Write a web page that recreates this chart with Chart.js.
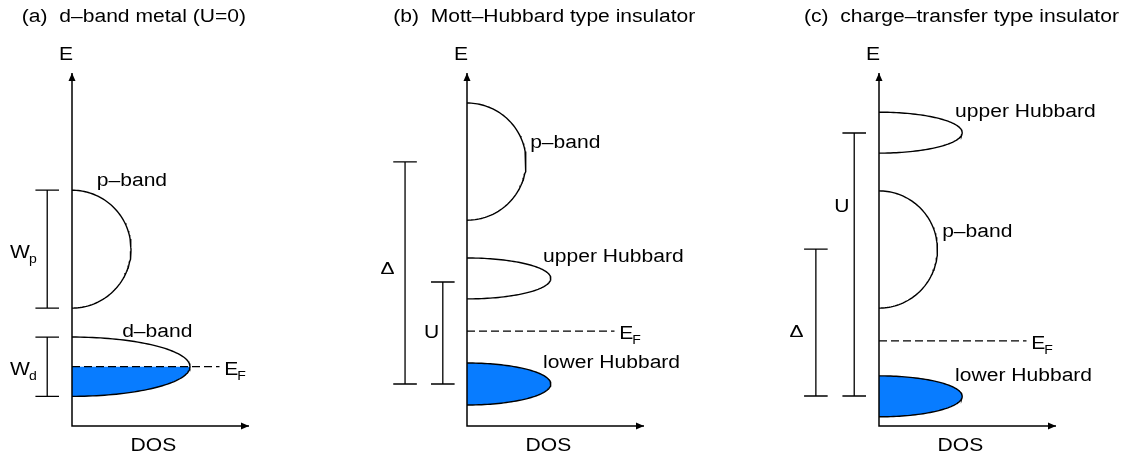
<!DOCTYPE html>
<html lang="en">
<head>
<meta charset="UTF-8">
<title>DOS schematics</title>
<script src="https://cdn.jsdelivr.net/npm/chart.js"></script>
<style>
    html, body { margin: 0; padding: 0; background: #fff; }
    .wrap { position: relative; width: 1127px; height: 459px; overflow: hidden; }
    canvas { position: absolute; top: 0; }
</style>
</head>
<body>
<div class="wrap">
    <canvas id="panel0"></canvas>
    <canvas id="panel1"></canvas>
    <canvas id="panel2"></canvas>
</div>
<script>
// energy in arbitrary units (0..100), DOS in units of the p-band peak
const titles = ['(a)  d–band metal (U=0)', '(b)  Mott–Hubbard type insulator', '(c)  charge–transfer type insulator'];

const bandNames      = [['p–band', 'd–band'], ['p–band', 'upper Hubbard', 'lower Hubbard'], ['upper Hubbard', 'p–band', 'lower Hubbard']];
const bandCenters    = [[50.1, 16.8], [74.9, 41.8, 11.9], [83.1, 50.0, 8.4]];
const bandHalfWidths = [[16.7, 8.4], [16.6, 5.8, 5.95], [5.8, 16.6, 5.8]];
const bandPeaks      = [[1.0, 2.0], [1.0, 1.42, 1.42], [1.41, 0.99, 1.41]];
const bandFilled     = [[false, true], [false, false, true], [false, false, true]];
const fermiLevels    = [16.8, 26.9, 24.1];

// energy brackets (label "W|p" = W with subscript p)
const gapLabels = [['W|p', 'W|d'], ['\u0394', 'U'], ['U', '\u0394']];
const gapLow    = [[33.4, 8.4], [11.9, 11.9], [8.5, 8.5]];
const gapHigh   = [[66.8, 25.2], [74.8, 40.8], [83.0, 50.1]];

// ---- layout ----
const PX_PER_DOS = 59;
const axisPx = [72, 467, 879];
const canvasSpan = [[0, 372], [372, 782], [782, 1127]];
const PLOT_TOP = 73, PLOT_BOTTOM = 426, H = 459;
const X_ARROW = 3.0, EF_END = 2.5, TICK_HALF = 0.2;
const STRETCH = 1.17;
const BLUE = 'rgb(8,124,255)';
const FONT = '"Liberation Sans", Arial, sans-serif';

const gapColumn = [[-0.42, -0.42], [-1.05, -0.41], [-0.42, -1.07]];
const bandLabelPos = [[[0.42, 68.0], [0.85, 25.2]],
                      [[1.07, 78.8], [1.29, 46.5], [1.29, 16.4]],
                      [[1.29, 87.5], [1.07, 53.5], [1.29, 12.7]]];
const gapLabelPos = [[[-1.05, 47.6], [-1.05, 14.4]],
                     [[-1.46, 43.1], [-0.73, 24.9]],
                     [[-0.76, 60.6], [-1.51, 25.2]]];
const titleX = [-0.85, -1.25, -1.27];

function halfEllipse(c, h, p, yTop) {
    const t0 = Math.acos(Math.max(-1, Math.min(1, (yTop - c) / h)));
    const pts = [];
    const n = 90;
    for (let i = 0; i <= n; i++) {
        const t = t0 + (Math.PI - t0) * i / n;
        pts.push({ x: p * Math.sin(t), y: c + h * Math.cos(t) });
    }
    return pts;
}

function drawText(ctx, str, x, y, size, align) {
    ctx.save();
    ctx.font = size + 'px ' + FONT;
    const w = ctx.measureText(str).width * STRETCH;
    const left = align === 'center' ? x - w / 2 : (align === 'right' ? x - w : x);
    ctx.translate(left, y);
    ctx.scale(STRETCH, 1);
    ctx.fillStyle = '#000';
    ctx.textAlign = 'left';
    ctx.textBaseline = 'alphabetic';
    ctx.fillText(str, 0, 0);
    ctx.restore();
    return w;
}

// Delta glyph sized to its ink box
function drawDelta(ctx, x, y) {
    ctx.save();
    ctx.font = '100px ' + FONT;
    const m = ctx.measureText('\u0394');
    const inkH = m.actualBoundingBoxAscent + m.actualBoundingBoxDescent;
    const inkW = m.actualBoundingBoxLeft + m.actualBoundingBoxRight;
    const sy = 12 / inkH, sx = 13 / inkW;
    ctx.translate(x, y);
    ctx.scale(sx, sy);
    ctx.fillStyle = '#000';
    ctx.textAlign = 'left';
    ctx.textBaseline = 'alphabetic';
    ctx.fillText('\u0394', m.actualBoundingBoxLeft, 0);
    ctx.restore();
}

function drawSubLabel(ctx, str, x, y, size) {
    if (str === '\u0394') { drawDelta(ctx, x, y); return; }
    const parts = str.split('|');
    const w = drawText(ctx, parts[0], x, y, size, 'left');
    if (parts[1]) drawText(ctx, parts[1], x + w - 1, y + 5, 12, 'left');
}

const labelPlugin = {
    id: 'dosLabels',
    afterDatasetsDraw(chart) {
        const i = chart.options.plugins.dosLabels.panel;
        const ctx = chart.ctx;
        const xs = chart.scales.x, ys = chart.scales.y;
        const px = v => xs.getPixelForValue(v);
        const py = v => ys.getPixelForValue(v);

        // arrow heads
        ctx.save();
        ctx.fillStyle = '#000';
        const ox = px(0), oy = py(0);
        ctx.beginPath();
        ctx.moveTo(ox, py(100));
        ctx.lineTo(ox - 3.5, py(100) + 8);
        ctx.lineTo(ox + 3.5, py(100) + 8);
        ctx.closePath();
        ctx.fill();
        ctx.beginPath();
        ctx.moveTo(px(X_ARROW), oy);
        ctx.lineTo(px(X_ARROW) - 8, oy - 3.5);
        ctx.lineTo(px(X_ARROW) - 8, oy + 3.5);
        ctx.closePath();
        ctx.fill();
        ctx.restore();

        drawText(ctx, titles[i], px(titleX[i]), 22, 18, 'left');
        drawText(ctx, 'E', ox - 6, 60, 18, 'center');
        drawText(ctx, 'DOS', px(1.38), 451, 18, 'center');

        bandNames[i].forEach((name, k) => {
            const p = bandLabelPos[i][k];
            drawText(ctx, name, px(p[0]), py(p[1]), 18, 'left');
        });
        gapLabels[i].forEach((name, k) => {
            const p = gapLabelPos[i][k];
            drawSubLabel(ctx, name, px(p[0]), py(p[1]), 18);
        });
        drawSubLabel(ctx, 'E|F', px(2.58), py(fermiLevels[i] - 2.3), 18);
    }
};

function buildDatasets(i) {
    const sets = [];
    const base = { showLine: true, pointRadius: 0, tension: 0, fill: false, clip: false };

    bandNames[i].forEach((name, k) => {
        const c = bandCenters[i][k], h = bandHalfWidths[i][k], p = bandPeaks[i][k];
        if (bandFilled[i][k]) {
            const top = Math.min(fermiLevels[i], c + h);
            const pts = [{ x: 0, y: top }].concat(halfEllipse(c, h, p, top));
            sets.push(Object.assign({}, base, {
                label: name + ' filled', data: pts, fill: 'shape',
                backgroundColor: BLUE, borderWidth: 0, borderColor: BLUE, order: 6
            }));
        }
        sets.push(Object.assign({}, base, {
            label: name, data: halfEllipse(c, h, p, c + h),
            borderColor: '#000', borderWidth: 1.4, order: 4
        }));
    });

    sets.push(Object.assign({}, base, {
        label: 'E_F', data: [{ x: 0, y: fermiLevels[i] }, { x: EF_END, y: fermiLevels[i] }],
        borderColor: '#000', borderWidth: 1.3, borderDash: [8, 4], order: 3
    }));

    gapLabels[i].forEach((name, k) => {
        const x = gapColumn[i][k], lo = gapLow[i][k], hi = gapHigh[i][k];
        sets.push(Object.assign({}, base, {
            label: name,
            data: [{ x: x - TICK_HALF, y: hi }, { x: x + TICK_HALF, y: hi }, { x: x, y: hi },
                   { x: x, y: lo }, { x: x - TICK_HALF, y: lo }, { x: x + TICK_HALF, y: lo }],
            borderColor: '#000', borderWidth: 1.3, order: 2
        }));
    });

    sets.push(Object.assign({}, base, {
        label: 'axes', data: [{ x: 0, y: 100 }, { x: 0, y: 0 }, { x: X_ARROW, y: 0 }],
        borderColor: '#000', borderWidth: 1.5, order: 1
    }));
    return sets;
}

for (let i = 0; i < 3; i++) {
    const cv = document.getElementById('panel' + i);
    const left = canvasSpan[i][0], right = canvasSpan[i][1];
    cv.width = right - left;
    cv.height = H;
    cv.style.left = left + 'px';
    cv.style.width = (right - left) + 'px';
    cv.style.height = H + 'px';

    new Chart(cv.getContext('2d'), {
        type: 'scatter',
        data: { datasets: buildDatasets(i) },
        options: {
            responsive: false,
            animation: false,
            devicePixelRatio: 1,
            layout: { padding: { top: PLOT_TOP, bottom: H - PLOT_BOTTOM, left: 0, right: 0 } },
            scales: {
                x: { type: 'linear', display: false,
                     min: (left - axisPx[i]) / PX_PER_DOS, max: (right - axisPx[i]) / PX_PER_DOS },
                y: { type: 'linear', display: false, min: 0, max: 100 }
            },
            plugins: {
                legend: { display: false },
                tooltip: { enabled: false },
                dosLabels: { panel: i }
            }
        },
        plugins: [labelPlugin]
    });
}
</script>
</body>
</html>
